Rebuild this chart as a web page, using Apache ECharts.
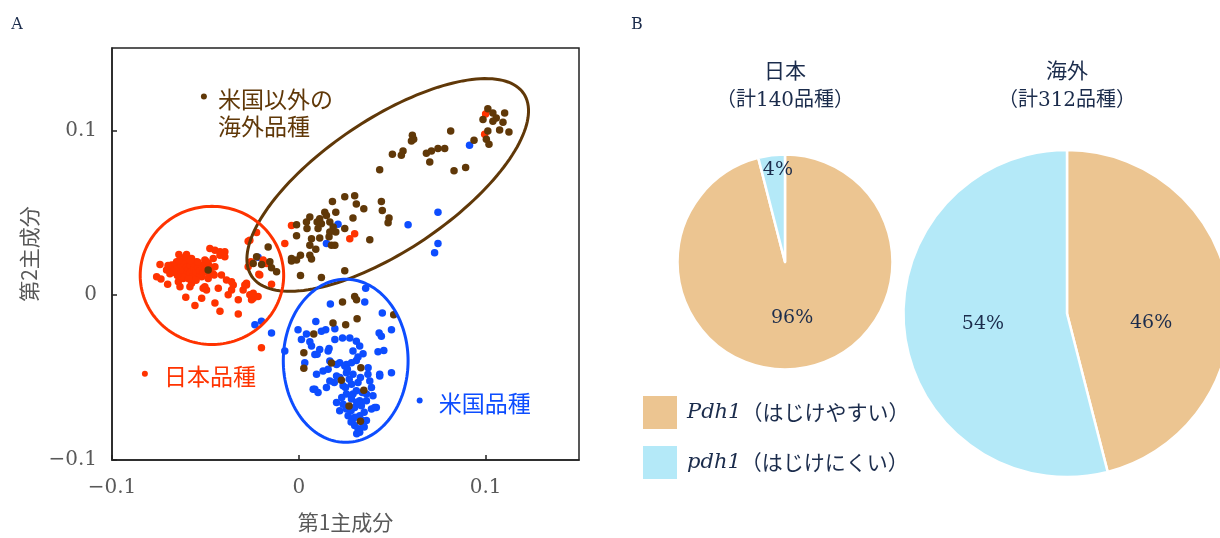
<!DOCTYPE html>
<html>
<head>
<meta charset="utf-8">
<script src="https://cdn.jsdelivr.net/npm/echarts@6/dist/echarts.min.js"></script>
<style>
  html, body { margin: 0; padding: 0; background: #fff; }
  #chart { width: 1220px; height: 538px; }
</style>
</head>
<body>
<div id="chart"></div>
<script>
// 第1主成分 / 第2主成分 の散布図データ
const japanPoints = [
  [-0.0743,0.0187],[-0.0761,0.0112],[-0.0738,0.0098],[-0.0708,0.0153],[-0.0702,0.0066],[-0.0642,0.0247],
  [-0.0601,0.0247],[-0.0654,0.0203],[-0.0681,0.0183],[-0.0663,0.0143],[-0.0627,0.0163],[-0.0592,0.0193],
  [-0.0574,0.0223],[-0.0547,0.0203],[-0.0503,0.0213],[-0.0476,0.0283],[-0.0449,0.0273],[-0.0422,0.0263],
  [-0.0396,0.0263],[-0.0396,0.0233],[-0.0422,0.0243],[-0.0458,0.0223],[-0.0485,0.0193],[-0.0494,0.0203],
  [-0.0449,0.0173],[-0.0414,0.0122],[-0.0453,0.0122],[-0.0485,0.0102],[-0.0520,0.0112],[-0.0556,0.0102],
  [-0.0574,0.0122],[-0.0619,0.0102],[-0.0645,0.0082],[-0.0636,0.0052],[-0.0583,0.0052],[-0.0574,0.0072],
  [-0.0512,0.0042],[-0.0494,0.0032],[-0.0503,0.0052],[-0.0431,0.0042],[-0.0387,0.0092],[-0.0360,0.0082],
  [-0.0351,0.0062],[-0.0360,0.0032],[-0.0378,0.0002],[-0.0324,-0.0028],[-0.0298,0.0032],[-0.0289,0.0062],
  [-0.0280,0.0072],[-0.0262,0.0002],[-0.0253,-0.0028],[-0.0244,-0.0018],[-0.0218,-0.0008],[-0.0449,-0.0048],
  [-0.0422,-0.0098],[-0.0324,-0.0114],[-0.0520,-0.0018],[-0.0556,-0.0062],[-0.0605,-0.0012],
  [-0.0680,0.0170],[-0.0660,0.0190],[-0.0650,0.0160],[-0.0640,0.0130],[-0.0630,0.0180],[-0.0620,0.0150],
  [-0.0610,0.0200],[-0.0600,0.0170],[-0.0600,0.0130],[-0.0590,0.0160],[-0.0580,0.0180],[-0.0580,0.0140],
  [-0.0570,0.0110],[-0.0560,0.0160],[-0.0560,0.0190],[-0.0550,0.0140],[-0.0540,0.0170],[-0.0530,0.0120],
  [-0.0530,0.0150],[-0.0520,0.0180],[-0.0510,0.0140],[-0.0500,0.0160],[-0.0620,0.0110],[-0.0650,0.0120],
  [-0.0670,0.0140],[-0.0700,0.0180],[-0.0610,0.0230],[-0.0580,0.0210],[-0.0540,0.0200],[-0.0490,0.0140],
  [-0.0470,0.0170],[-0.0460,0.0130],[-0.0640,0.0210],[-0.0590,0.0100],[-0.0550,0.0090],[-0.0690,0.0130],
  [-0.0271,0.0327],[-0.0226,0.0380],[-0.0257,0.0203],[-0.0214,0.0127],[-0.0075,0.0313],[-0.0039,0.0423],
  [0.0273,0.0343],[0.0299,0.0373],[-0.0262,0.0333],[-0.0191,0.0213],[-0.0173,0.0193],[-0.0271,0.0173],
  [-0.0209,0.0122],[-0.0146,0.0066],[-0.0280,0.0062],[-0.0244,0.0012],[-0.0200,-0.0319],
  [0.1000,0.1100],[0.0995,0.0976]
];
const usPoints = [
  [-0.0235,-0.0179],[-0.0200,-0.0158],[-0.0146,-0.0229],[-0.0075,-0.0339],[-0.0218,0.0230],[0.0210,0.0430],
  [0.0148,0.0313],[0.0585,0.0428],[0.0745,0.0504],[0.0745,0.0313],[0.0727,0.0257],[0.0914,0.0910],
  [0.0358,0.0042],[0.0169,-0.0054],[0.0353,-0.0042],[0.0447,-0.0108],[0.0496,-0.0209],[0.0430,-0.0229],
  [0.0442,-0.0249],[0.0091,-0.0159],[-0.0004,-0.0209],[0.0041,-0.0235],[0.0121,-0.0219],[0.0144,-0.0209],
  [0.0193,-0.0203],[0.0234,-0.0259],[0.0273,-0.0259],[0.0308,-0.0279],[0.0326,-0.0309],[0.0424,-0.0343],
  [0.0455,-0.0335],[0.0059,-0.0283],[0.0068,-0.0309],[0.0112,-0.0329],[0.0098,-0.0359],[0.0162,-0.0323],
  [0.0193,-0.0269],[0.0290,-0.0339],[0.0317,-0.0375],[0.0344,-0.0355],[0.0032,-0.0410],[0.0166,-0.0399],
  [0.0219,-0.0410],[0.0255,-0.0420],[0.0308,-0.0396],[0.0014,-0.0269],[0.0086,-0.0360],[0.0157,-0.0339],
  [0.0095,-0.0480],[0.0130,-0.0460],[0.0157,-0.0450],[0.0202,-0.0420],[0.0246,-0.0430],[0.0282,-0.0410],
  [0.0371,-0.0440],[0.0433,-0.0480],[0.0496,-0.0470],[0.0086,-0.0570],[0.0103,-0.0590],[0.0148,-0.0560],
  [0.0166,-0.0520],[0.0202,-0.0490],[0.0255,-0.0470],[0.0290,-0.0480],[0.0237,-0.0550],[0.0282,-0.0540],
  [0.0317,-0.0530],[0.0380,-0.0520],[0.0389,-0.0560],[0.0362,-0.0600],[0.0397,-0.0610],[0.0308,-0.0580],
  [0.0255,-0.0600],[0.0282,-0.0630],[0.0326,-0.0641],[0.0362,-0.0641],[0.0202,-0.0651],[0.0237,-0.0661],
  [0.0219,-0.0701],[0.0255,-0.0691],[0.0299,-0.0681],[0.0335,-0.0671],[0.0389,-0.0691],[0.0415,-0.0681],
  [0.0264,-0.0731],[0.0290,-0.0751],[0.0326,-0.0731],[0.0299,-0.0791],[0.0317,-0.0811],[0.0362,-0.0761],
  [0.0344,-0.0781],[0.0326,-0.0831],[0.0433,-0.0490],[0.0406,-0.0681],[0.0077,-0.0570],
  [0.0220,-0.0500],[0.0270,-0.0510],[0.0330,-0.0500],[0.0250,-0.0560],[0.0290,-0.0600],[0.0340,-0.0590],
  [0.0310,-0.0650],[0.0280,-0.0700],[0.0350,-0.0710],[0.0300,-0.0740],[0.0340,-0.0760],[0.0280,-0.0770],
  [0.0310,-0.0840],[0.0350,-0.0800],[0.0230,-0.0620],[0.0260,-0.0450],[0.0190,-0.0530],[0.0370,-0.0480]
];
const otherPoints = [
  [0.1012,0.1131],[0.1039,0.1106],[0.1057,0.1076],[0.1102,0.1106],[0.0986,0.1066],[0.1039,0.1056],
  [0.1093,0.1050],[0.1075,0.1002],[0.1125,0.0990],[0.1012,0.0996],[0.1004,0.0946],[0.1018,0.0916],
  [0.0938,0.0940],[0.0813,0.0996],
  [0.0608,0.0970],[0.0615,0.0946],[0.0603,0.0936],[0.0558,0.0875],[0.0549,0.0849],[0.0501,0.0855],
  [0.0683,0.0861],[0.0710,0.0875],[0.0745,0.0890],[0.0781,0.0890],[0.0701,0.0809],[0.0433,0.0761],
  [0.0831,0.0755],[0.0893,0.0775],
  [0.0246,0.0598],[0.0299,0.0604],[0.0308,0.0554],[0.0348,0.0524],[0.0442,0.0568],[0.0447,0.0514],
  [0.0483,0.0468],[0.0478,0.0440],[0.0380,0.0337],[0.0290,0.0468],[0.0198,0.0504],[0.0180,0.0568],
  [0.0139,0.0504],[0.0148,0.0484],[0.0112,0.0464],[0.0098,0.0444],[0.0059,0.0474],[0.0041,0.0444],
  [0.0121,0.0434],[0.0166,0.0444],[0.0184,0.0414],[0.0166,0.0384],[0.0198,0.0384],[0.0162,0.0354],
  [0.0175,0.0303],[0.0193,0.0303],[0.0246,0.0404],[0.0112,0.0347],[0.0068,0.0343],[0.0059,0.0303],
  [-0.0012,0.0428],[-0.0012,0.0360],[0.0044,0.0404],[0.0103,0.0404],[0.0091,0.0279],[0.0009,0.0243],
  [-0.0039,0.0223],[-0.0012,0.0213],[-0.0039,0.0207],[0.0059,0.0243],[0.0068,0.0219],[-0.0164,0.0293],
  [-0.0226,0.0233],[-0.0155,0.0203],[-0.0146,0.0167],[-0.0119,0.0143],[-0.0199,0.0187],[0.0246,0.0149],
  [0.0121,0.0107],[0.0009,0.0119],[-0.0244,0.0193],[-0.0485,0.0153],
  [0.0234,-0.0042],[0.0299,-0.0008],[0.0309,-0.0028],[0.0312,-0.0143],[0.0183,-0.0169],[0.0251,-0.0179],
  [0.0080,-0.0235],[0.0027,-0.0349],[0.0508,-0.0119],[0.0027,-0.0444],[0.0175,-0.0411],[0.0228,-0.0516],
  [0.0332,-0.0440],[0.0348,-0.0577],[0.0269,-0.0673],[0.0330,-0.0765]
];

// 楕円: [中心x, 中心y, 半径(x方向), 半径(y方向), 回転角(度)]
const ellipseJapan = [-0.0465, 0.0120, 0.0384, 0.0419, 0];
const ellipseUS = [0.0251, -0.0398, 0.0334, 0.0495, 0];
const ellipseOther = [0.0476, 0.0669, 0.0877, 0.0398, 33.9];

// 凡例ラベル (散布図内)
const groupNames = ['米国以外の\n海外品種', '日本品種', '米国品種'];
const groupAnchors = [[-0.0508, 0.1205], [-0.0824, -0.0476], [0.0647, -0.0639]];

const xTicks = [-0.1, 0.15];
const yTicks = [-0.1, 0.15];

// 円グラフ
const alleleNames = ['Pdh1', 'pdh1'];
const alleleDesc = ['（はじけやすい）', '（はじけにくい）'];
const japanShare = [96, 4];
const overseasShare = [46, 54];
const pieTitles = ['日本', '（計140品種）', '海外', '（計312品種）'];

const RED = '#ff3300', BLUE = '#0d4dff', BROWN = '#603808';
const TAN = '#ecc591', SKY = '#b4e9f8', NAVY = '#1b2c4c', GRAY = '#595959';
const CJK = '"Noto Sans CJK JP"';
const SERIF = '"DejaVu Serif", "Noto Sans CJK JP"';

const myChart = echarts.init(document.getElementById('chart'));

function renderEllipse(params, api) {
  const c = api.coord([api.value(0), api.value(1)]);
  const s = api.size([api.value(2), api.value(3)]);
  const a = api.value(4) * Math.PI / 180;
  const pts = [];
  for (let i = 0; i < 160; i++) {
    const t = i / 160 * Math.PI * 2;
    const ex = s[0] * Math.cos(t), ey = s[1] * Math.sin(t);
    pts.push([c[0] + ex * Math.cos(a) + ey * Math.sin(a), c[1] - ex * Math.sin(a) + ey * Math.cos(a)]);
  }
  return {
    type: 'polygon',
    shape: { points: pts },
    style: { fill: 'none', stroke: api.visual('color'), lineWidth: 3 }
  };
}

const groupColors = [BROWN, RED, BLUE];
const tickFmt = v => (v < 0 ? '−' : '') + String(Math.abs(Math.round(v * 10) / 10));

const option = {
  backgroundColor: '#fff',
  animation: false,
  grid: {
    left: 112, top: 48, width: 467, height: 415,
    show: true, borderColor: '#222', borderWidth: 1.5, backgroundColor: 'transparent'
  },
  xAxis: {
    type: 'value', min: xTicks[0], max: xTicks[1], interval: 0.1,
    name: '第1主成分', nameLocation: 'middle', nameGap: 52,
    nameTextStyle: { fontFamily: CJK, fontSize: 21, color: GRAY },
    axisLine: { show: true, onZero: false, lineStyle: { color: '#222', width: 1.5 } },
    axisTick: { show: true, inside: true, length: 5, lineStyle: { color: '#222', width: 1.5 } },
    axisLabel: { margin: 18, fontFamily: SERIF, fontSize: 20, color: GRAY, showMaxLabel: false, formatter: tickFmt },
    splitLine: { show: false }
  },
  yAxis: {
    type: 'value', min: yTicks[0], max: yTicks[1], interval: 0.1,
    name: '第2主成分', nameLocation: 'middle', nameGap: 72, nameRotate: 90,
    nameTextStyle: { fontFamily: CJK, fontSize: 21, color: GRAY },
    axisLine: { show: true, onZero: false, lineStyle: { color: '#222', width: 1.5 } },
    axisTick: { show: true, inside: true, length: 5, lineStyle: { color: '#222', width: 1.5 } },
    axisLabel: { margin: 15, fontFamily: SERIF, fontSize: 20, color: GRAY, showMaxLabel: false, formatter: tickFmt },
    splitLine: { show: false }
  },
  legend: {
    data: alleleNames,
    orient: 'vertical',
    left: 636, top: 389,
    itemWidth: 36, itemHeight: 35, itemGap: 13,
    icon: 'rect',
    selectedMode: false,
    formatter: name => '{i|' + name + '}' + alleleDesc[alleleNames.indexOf(name)],
    textStyle: {
      fontFamily: CJK, fontSize: 21, color: NAVY, padding: [0, 0, 0, 4],
      rich: { i: { fontFamily: '"DejaVu Serif"', fontStyle: 'italic', fontSize: 21, color: NAVY } }
    }
  },
  graphic: [
    { type: 'text', x: 17, y: 25, style: { text: 'A', font: '16px "DejaVu Serif"', fill: NAVY, align: 'center', verticalAlign: 'middle' } },
    { type: 'text', x: 637, y: 25, style: { text: 'B', font: '16px "DejaVu Serif"', fill: NAVY, align: 'center', verticalAlign: 'middle' } },
    { type: 'text', x: 785, y: 73, style: { text: pieTitles[0], font: '21px ' + SERIF, fill: NAVY, align: 'center', verticalAlign: 'middle' } },
    { type: 'text', x: 785, y: 101, style: { text: pieTitles[1], font: '20px ' + SERIF, fill: NAVY, align: 'center', verticalAlign: 'middle' } },
    { type: 'text', x: 1067, y: 73, style: { text: pieTitles[2], font: '21px ' + SERIF, fill: NAVY, align: 'center', verticalAlign: 'middle' } },
    { type: 'text', x: 1067, y: 101, style: { text: pieTitles[3], font: '20px ' + SERIF, fill: NAVY, align: 'center', verticalAlign: 'middle' } }
  ],
  series: [
    {
      name: '米国品種', type: 'scatter', data: usPoints, symbolSize: 7.5,
      itemStyle: { color: BLUE, opacity: 1 }, silent: true, z: 2
    },
    {
      name: '日本品種', type: 'scatter', data: japanPoints, symbolSize: 7.5,
      itemStyle: { color: RED, opacity: 1 }, silent: true, z: 3
    },
    {
      name: '米国以外の海外品種', type: 'scatter', data: otherPoints, symbolSize: 7.5,
      itemStyle: { color: BROWN, opacity: 1 }, silent: true, z: 4
    },
    {
      type: 'custom', renderItem: renderEllipse, silent: true, z: 5, clip: false,
      encode: { x: 0, y: 1 },
      data: [
        { value: ellipseOther, itemStyle: { color: BROWN } },
        { value: ellipseJapan, itemStyle: { color: RED } },
        { value: ellipseUS, itemStyle: { color: BLUE } }
      ]
    },
    {
      type: 'scatter', silent: true, z: 6, symbolSize: 6,
      data: groupAnchors.map((p, i) => ({
        value: p,
        itemStyle: { color: groupColors[i], opacity: 1 },
        label: {
          show: true, position: 'right',
          distance: i === 0 ? 11 : 16,
          offset: i === 0 ? [0, 16] : [0, 3],
          formatter: groupNames[i],
          color: groupColors[i], fontFamily: CJK, fontSize: 23, lineHeight: 27
        }
      }))
    },
    {
      name: '日本', type: 'pie', center: [785, 262], radius: 107.5,
      startAngle: 90, clockwise: true, silent: true,
      itemStyle: { borderColor: '#fff', borderWidth: 2.5 },
      label: { show: true, position: 'inside', formatter: '{c}%', fontFamily: '"DejaVu Serif"', fontSize: 19, color: NAVY },
      labelLine: { show: false },
      labelLayout: p => (p.dataIndex === 1 ? { dy: -36 } : {}),
      data: [
        { name: alleleNames[0], value: japanShare[0], itemStyle: { color: TAN } },
        { name: alleleNames[1], value: japanShare[1], itemStyle: { color: SKY } }
      ]
    },
    {
      name: '海外', type: 'pie', center: [1067, 313.5], radius: 163.5,
      startAngle: 90, clockwise: true, silent: true,
      itemStyle: { borderColor: '#fff', borderWidth: 2.5 },
      label: { show: true, position: 'inside', formatter: '{c}%', fontFamily: '"DejaVu Serif"', fontSize: 19, color: NAVY },
      labelLine: { show: false },
      labelLayout: p => (p.dataIndex === 0 ? { dy: 20 } : {}),
      data: [
        { name: alleleNames[0], value: overseasShare[0], itemStyle: { color: TAN } },
        { name: alleleNames[1], value: overseasShare[1], itemStyle: { color: SKY } }
      ]
    }
  ]
};

myChart.setOption(option);
</script>
</body>
</html>
